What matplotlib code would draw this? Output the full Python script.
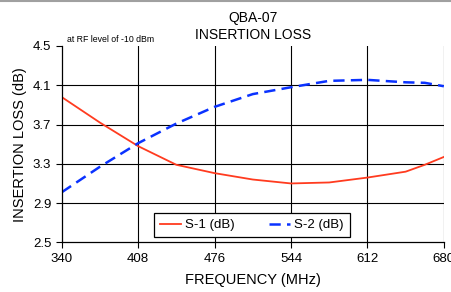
import matplotlib.pyplot as plt
from matplotlib.lines import Line2D

plt.rcParams['font.family'] = ['Liberation Sans', 'DejaVu Sans']

# frequencies (MHz) and insertion loss (dB)
freq = [340, 374, 408, 442, 476, 510, 544, 578, 612, 646, 663, 680]
s1 = [3.98, 3.72, 3.48, 3.29, 3.205, 3.14, 3.10, 3.11, 3.16, 3.22, 3.29, 3.37]
s2 = [3.01, 3.27, 3.51, 3.71, 3.88, 4.01, 4.08, 4.145, 4.155, 4.13, 4.125, 4.09]

xticks = [340, 408, 476, 544, 612, 680]
yticks = [2.5, 2.9, 3.3, 3.7, 4.1, 4.5]

fig = plt.figure(figsize=(4.52, 2.92), dpi=100)
ax = fig.add_axes([0.1365, 0.170, 0.8455, 0.6725])

ax.plot(freq, s1, color='#ff3b1f', lw=1.3, label='S-1 (dB)')
ax.plot(freq, s2, color='#0a32ff', lw=1.8, dashes=(4.5, 2.5), label='S-2 (dB)')

ax.set_xlim(340, 680)
ax.set_ylim(2.5, 4.5)
ax.set_xticks(xticks)
ax.set_yticks(yticks)
ax.set_yticklabels([f'{v:.1f}' for v in yticks])
ax.tick_params(labelsize=9.5, length=4, width=0.8, direction='out', color='black')

# grid lines (no top gridline at 4.5)
for x in xticks[1:]:
    ax.axvline(x, color='black', lw=0.8, zorder=0.5)
for y in yticks[1:-1]:
    ax.axhline(y, color='black', lw=0.8, zorder=0.5)

for side in ['top', 'right']:
    ax.spines[side].set_visible(False)
ax.spines['left'].set_linewidth(0.9)
ax.spines['bottom'].set_linewidth(0.9)

ax.set_xlabel('FREQUENCY (MHz)', fontsize=10.5, labelpad=6)
ax.set_ylabel('INSERTION LOSS (dB)', fontsize=10.5, labelpad=4)
ax.set_title('QBA-07\nINSERTION LOSS', fontsize=10, linespacing=1.25, pad=5)
ax.text(0.015, 1.01, 'at RF level of -10 dBm', transform=ax.transAxes,
        fontsize=6.3, va='bottom', ha='left')

leg = ax.legend(loc='center', bbox_to_anchor=(0.498, 0.088), ncol=2, fontsize=9.5,
                frameon=True, fancybox=False, edgecolor='black', framealpha=1,
                handlelength=1.6, columnspacing=2.6, borderpad=0.45, handletextpad=0.3,
                borderaxespad=0)
leg.get_frame().set_linewidth(0.9)

# thin grey border line at the top of the image
fig.add_artist(Line2D([0, 1], [0.997, 0.997], transform=fig.transFigure,
                      color='#a0a0a0', lw=1.5))

fig.savefig('out.png', dpi=100)
